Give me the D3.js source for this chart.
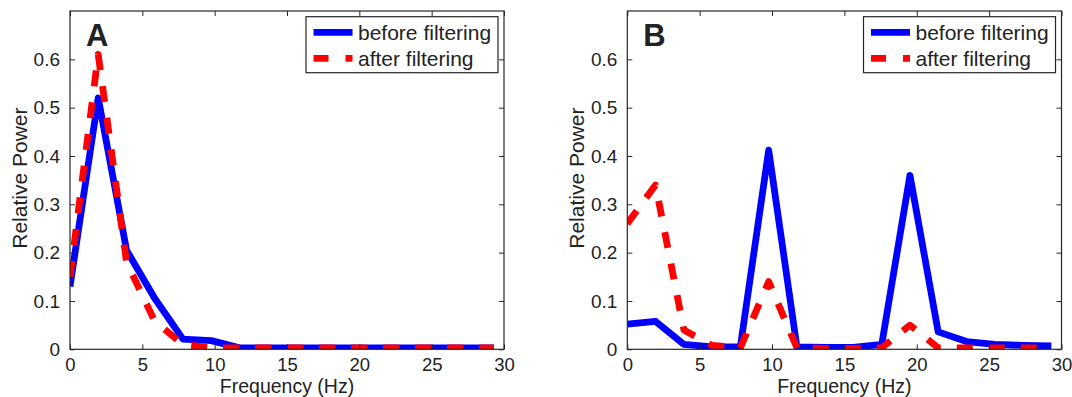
<!DOCTYPE html>
<html>
<head>
<meta charset="utf-8">
<script src="https://cdn.jsdelivr.net/npm/d3@7"></script>
<style>
  html, body { margin: 0; padding: 0; background: #fff; }
  svg text { font-family: "Liberation Sans", Arial, sans-serif; fill: #222; }
</style>
</head>
<body>
<svg id="chart" width="1072" height="397"></svg>
<script>
"use strict";

// frequency bins (Hz), 500/256 spacing
const freqs = [0, 1.95, 3.91, 5.86, 7.81, 9.77, 11.72, 13.67, 15.63, 17.58, 19.53, 21.48, 23.44, 25.39, 27.34, 29.30];

// panel A
const beforeA = [0.13, 0.52, 0.205, 0.105, 0.021, 0.018, 0.003, 0.003, 0.003, 0.003, 0.003, 0.003, 0.003, 0.003, 0.003, 0.003];
const afterA  = [0.15, 0.61, 0.18, 0.058, 0.010, 0.003, 0.003, 0.003, 0.003, 0.003, 0.003, 0.003, 0.003, 0.003, 0.003, 0.003];

// panel B
const beforeB = [0.052, 0.058, 0.010, 0.005, 0.005, 0.412, 0.005, 0.004, 0.004, 0.010, 0.360, 0.036, 0.016, 0.010, 0.008, 0.007];
const afterB  = [0.26, 0.34, 0.040, 0.008, 0.003, 0.140, 0.003, 0.002, 0.002, 0.003, 0.050, 0.003, 0.003, 0.003, 0.003, 0.003];

const xTicks = [0, 5, 10, 15, 20, 25, 30];
const yTicks = [0, 0.1, 0.2, 0.3, 0.4, 0.5, 0.6];
const legendLabels = ["before filtering", "after filtering"];

const svg = d3.select("#chart");
const plotTop = 11, plotBottom = 349.3;

//-----------------------------------------------------------------------------------
// one panel: box axes with inward ticks, two lines, legend and a letter
function drawPanel(id, left, right, before, after, letter) {
    const x = d3.scaleLinear().domain([0, 30]).range([left, right]);
    const y = d3.scaleLinear().domain([0, 0.7]).range([plotBottom, plotTop]);
    const g = svg.append("g");

    svg.append("clipPath").attr("id", "clip" + id)
        .append("rect")
        .attr("x", left).attr("y", plotTop)
        .attr("width", right - left).attr("height", plotBottom - plotTop);

    const line = d3.line().x((d, i) => x(freqs[i])).y(d => y(d));

    // lines
    g.append("path")
        .datum(before)
        .attr("clip-path", "url(#clip" + id + ")")
        .attr("fill", "none")
        .attr("stroke", "#0000ff")
        .attr("stroke-width", 6.8)
        .attr("stroke-linejoin", "round")
        .attr("d", line);

    g.append("path")
        .datum(after)
        .attr("clip-path", "url(#clip" + id + ")")
        .attr("fill", "none")
        .attr("stroke", "#ff0000")
        .attr("stroke-width", 6.8)
        .attr("stroke-dasharray", "16,16")
        .attr("stroke-linejoin", "round")
        .attr("d", line);

    // axes - bottom/left with labels, top/right only ticks
    const tickLen = 5;
    g.append("g")
        .attr("transform", `translate(0,${plotBottom})`)
        .call(d3.axisBottom(x).tickValues(xTicks).tickSizeInner(-tickLen).tickSizeOuter(0).tickPadding(8.5).tickFormat(d3.format("d")))
        .call(a => a.selectAll("text").style("font-size", "18.5px").attr("fill", "#222"));

    g.append("g")
        .attr("transform", `translate(${left},0)`)
        .call(d3.axisLeft(y).tickValues(yTicks).tickSizeInner(-tickLen).tickSizeOuter(0).tickPadding(10).tickFormat(d => d === 0 ? "0" : d3.format(".1f")(d)))
        .call(a => a.selectAll("text").style("font-size", "19px").attr("fill", "#222"));

    g.append("g")
        .attr("transform", `translate(0,${plotTop})`)
        .call(d3.axisTop(x).tickValues(xTicks).tickSizeInner(-tickLen).tickSizeOuter(0).tickFormat(""));

    g.append("g")
        .attr("transform", `translate(${right},0)`)
        .call(d3.axisRight(y).tickValues(yTicks).tickSizeInner(-tickLen).tickSizeOuter(0).tickFormat(""));

    g.selectAll(".domain").remove();
    g.selectAll(".tick line").attr("stroke", "#262626");

    g.append("rect")
        .attr("x", left).attr("y", plotTop)
        .attr("width", right - left).attr("height", plotBottom - plotTop)
        .attr("fill", "none")
        .attr("stroke", "#262626")
        .attr("stroke-width", 1.2);

    // axis titles
    g.append("text")
        .attr("x", (left + right) / 2)
        .attr("y", 392.6)
        .attr("text-anchor", "middle")
        .style("font-size", "19.5px")
        .text("Frequency (Hz)");

    g.append("text")
        .attr("transform", `translate(${left - 43},${(plotTop + plotBottom) / 2 - 2}) rotate(-90)`)
        .attr("text-anchor", "middle")
        .style("font-size", "21px")
        .text("Relative Power");

    // panel letter
    g.append("text")
        .attr("x", left + 16)
        .attr("y", 45.7)
        .style("font-size", "31px")
        .style("font-weight", "bold")
        .attr("fill", "#000")
        .text(letter);

    // legend
    const bx = right - 198, by = 16.7;
    g.append("rect")
        .attr("x", bx).attr("y", by)
        .attr("width", 192).attr("height", 56)
        .attr("fill", "#fff")
        .attr("stroke", "#262626")
        .attr("stroke-width", 1.2);

    const rows = [
        { label: legendLabels[0], color: "#0000ff", dash: null, yy: by + 15.6 },
        { label: legendLabels[1], color: "#ff0000", dash: "15,17", yy: by + 41.6 }
    ];
    rows.forEach(r => {
        g.append("line")
            .attr("x1", bx + 7.5).attr("x2", bx + 46.5)
            .attr("y1", r.yy).attr("y2", r.yy)
            .attr("stroke", r.color)
            .attr("stroke-width", 6.8)
            .attr("stroke-dasharray", r.dash);
        g.append("text")
            .attr("x", bx + 52)
            .attr("y", r.yy + 7.5)
            .style("font-size", "21px")
            .text(r.label);
    });
}

drawPanel("A", 70, 504, beforeA, afterA, "A");
drawPanel("B", 627.3, 1061.5, beforeB, afterB, "B");
</script>
</body>
</html>
